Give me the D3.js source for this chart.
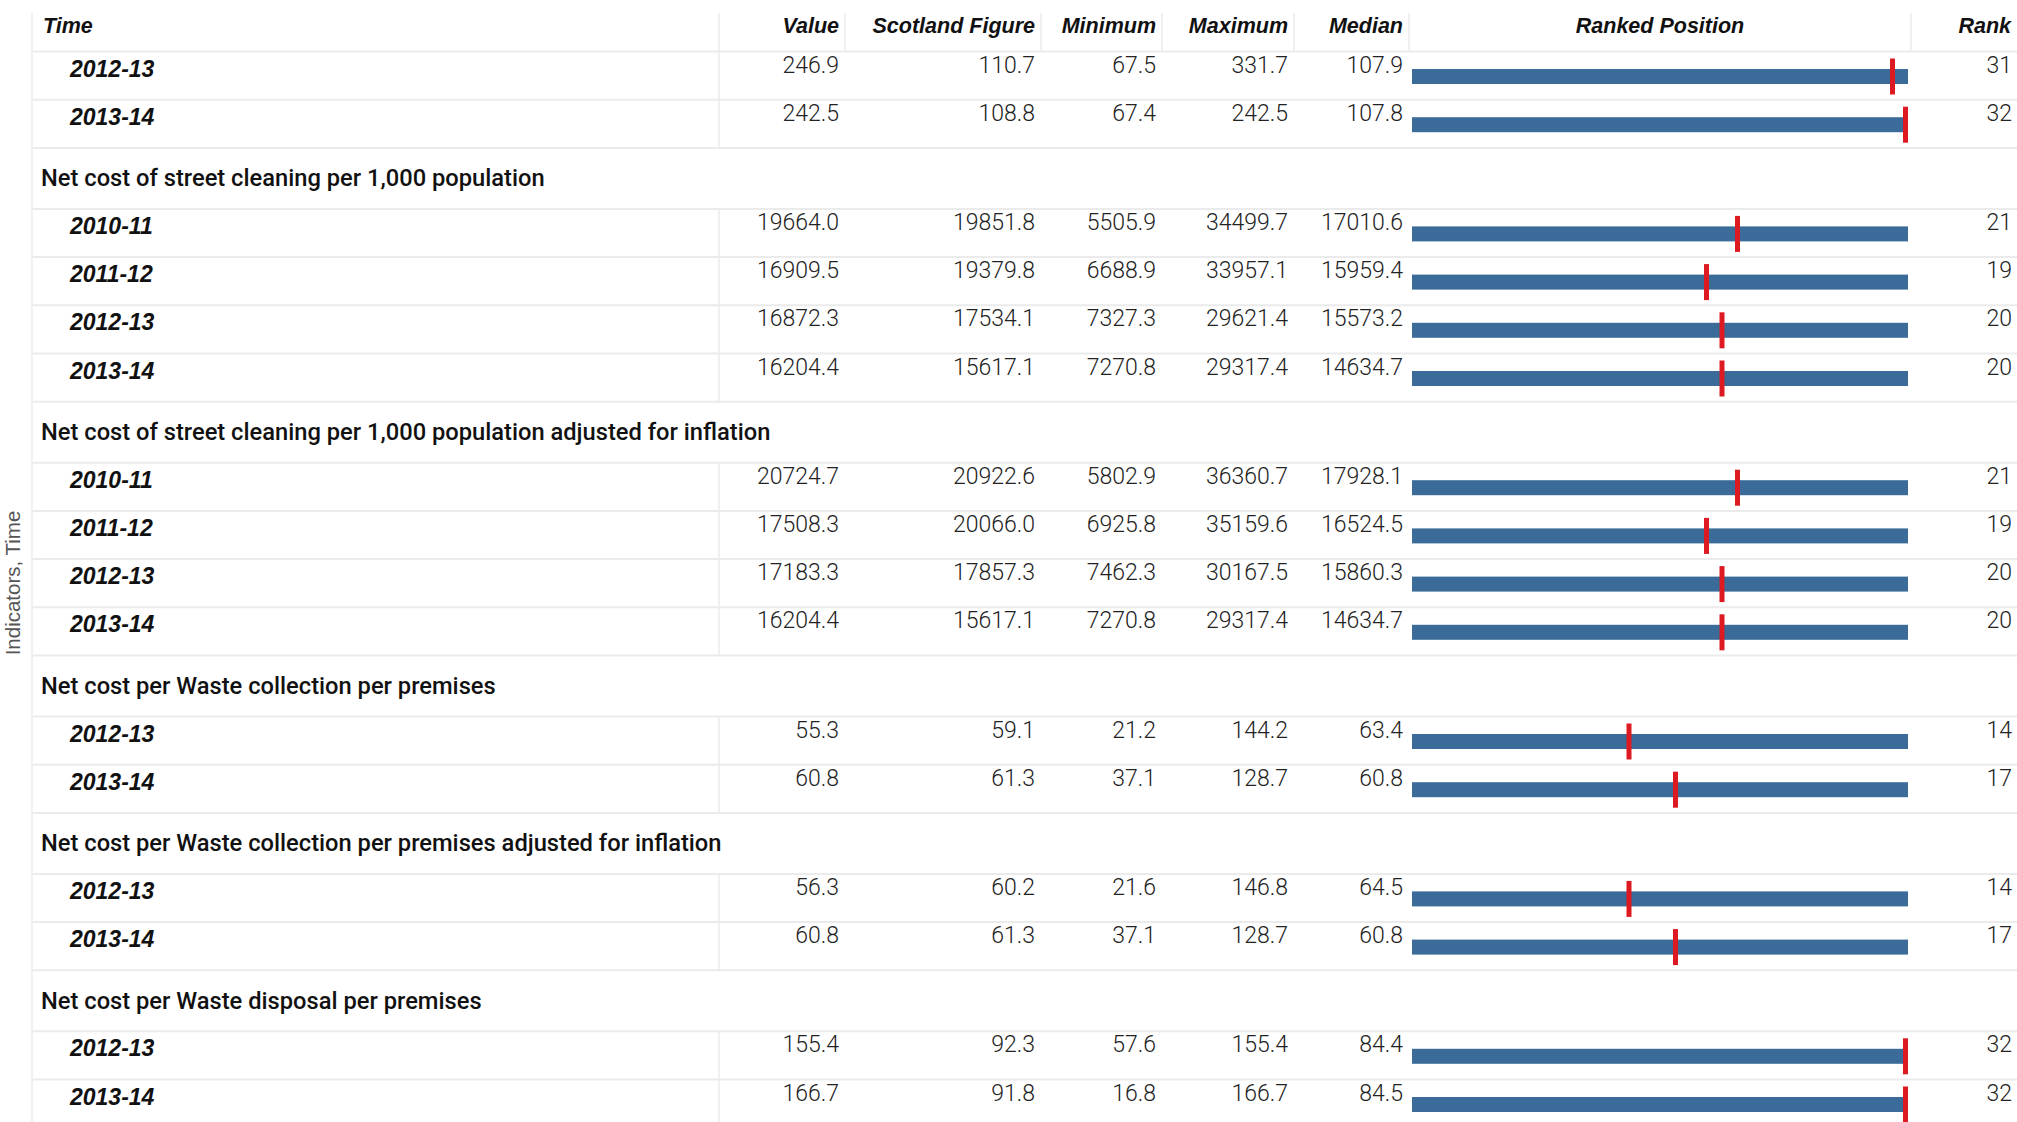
<!DOCTYPE html>
<html>
<head>
<meta charset="utf-8">
<script src="https://cdn.jsdelivr.net/npm/d3@7"></script>
<style>
  html, body { margin: 0; padding: 0; background: #fff; overflow: hidden; }
  text { font-family: "Liberation Sans", Arial, sans-serif; fill: #111; }
  .hdr { font-size: 21.5px; font-weight: bold; font-style: italic; }
  .period { font-size: 23px; font-weight: bold; font-style: italic; }
  .title { font-size: 23.7px; font-family: Roboto, "Liberation Sans", sans-serif; font-weight: 500; }
  .val { font-size: 23px; font-family: Roboto, "Liberation Sans", sans-serif; font-weight: 300; fill: #222; }
  .axis-title { font-size: 20.5px; fill: #555; }
</style>
</head>
<body>
<div id="chart"></div>
<script>
// indicator titles (the first one is scrolled out of view)
var indicators = [
  null,
  "Net cost of street cleaning per 1,000 population",
  "Net cost of street cleaning per 1,000 population adjusted for inflation",
  "Net cost per Waste collection per premises",
  "Net cost per Waste collection per premises adjusted for inflation",
  "Net cost per Waste disposal per premises"
];
// time periods shown under each indicator
var periods = [
  ["2012-13", "2013-14"],
  ["2010-11", "2011-12", "2012-13", "2013-14"],
  ["2010-11", "2011-12", "2012-13", "2013-14"],
  ["2012-13", "2013-14"],
  ["2012-13", "2013-14"],
  ["2012-13", "2013-14"]
];
// one entry per period row, in order
var value    = [246.9, 242.5, 19664.0, 16909.5, 16872.3, 16204.4, 20724.7, 17508.3, 17183.3, 16204.4, 55.3, 60.8, 56.3, 60.8, 155.4, 166.7];
var scotland = [110.7, 108.8, 19851.8, 19379.8, 17534.1, 15617.1, 20922.6, 20066.0, 17857.3, 15617.1, 59.1, 61.3, 60.2, 61.3, 92.3, 91.8];
var minimum  = [67.5, 67.4, 5505.9, 6688.9, 7327.3, 7270.8, 5802.9, 6925.8, 7462.3, 7270.8, 21.2, 37.1, 21.6, 37.1, 57.6, 16.8];
var maximum  = [331.7, 242.5, 34499.7, 33957.1, 29621.4, 29317.4, 36360.7, 35159.6, 30167.5, 29317.4, 144.2, 128.7, 146.8, 128.7, 155.4, 166.7];
var median   = [107.9, 107.8, 17010.6, 15959.4, 15573.2, 14634.7, 17928.1, 16524.5, 15860.3, 14634.7, 63.4, 60.8, 64.5, 60.8, 84.4, 84.5];
var rank     = [31, 32, 21, 19, 20, 20, 21, 19, 20, 20, 14, 17, 14, 17, 32, 32];
var councils = 32;

var columns = ["Time", "Value", "Scotland Figure", "Minimum", "Maximum", "Median", "Ranked Position", "Rank"];

var width = 2017, height = 1122;

// column edges
var colX = [32, 719, 845, 1041, 1162, 1294, 1409, 1911, 2017];
var headerH = 51.5, rowH = 48.2, titleH = 61;

var svg = d3.select("#chart").append("svg")
  .attr("width", width)
  .attr("height", height);

var fmt = d3.format(".1f");

// build the row list
var rows = [];
var y = headerH, k = 0;
indicators.forEach(function(ind, i) {
  if (ind !== null) {
    rows.push({type: "title", y: y, h: titleH, label: ind});
    y += titleH;
  }
  periods[i].forEach(function(p) {
    rows.push({type: "data", y: y, h: rowH, label: p,
      vals: [value[k], scotland[k], minimum[k], maximum[k], median[k]], rank: rank[k]});
    y += rowH;
    k++;
  });
});

var lineColor = "#ebebeb";

// left border
svg.append("line")
  .attr("x1", colX[0]).attr("x2", colX[0])
  .attr("y1", 13).attr("y2", height)
  .attr("stroke", lineColor).attr("stroke-width", 1.5);

// header separators
svg.selectAll(".hsep")
  .data(colX.slice(1, 8))
  .enter().append("line")
  .attr("x1", function(d){ return d; }).attr("x2", function(d){ return d; })
  .attr("y1", 13).attr("y2", headerH)
  .attr("stroke", lineColor).attr("stroke-width", 1.5);

// header labels
svg.selectAll(".hdr")
  .data(columns)
  .enter().append("text")
  .attr("class", "hdr")
  .attr("x", function(d, i){
    if (i === 0) return 43;
    if (i === 6) return (colX[6] + colX[7]) / 2;
    return colX[i + 1] - 6;
  })
  .attr("y", 33)
  .attr("text-anchor", function(d, i){ return i === 0 ? "start" : (i === 6 ? "middle" : "end"); })
  .text(function(d){ return d; });

// horizontal row lines
svg.selectAll(".hline")
  .data([headerH].concat(rows.map(function(r){ return r.y + r.h; })))
  .enter().append("line")
  .attr("x1", colX[0]).attr("x2", width)
  .attr("y1", function(d){ return d; }).attr("y2", function(d){ return d; })
  .attr("stroke", lineColor).attr("stroke-width", 2);

// indicator titles
svg.selectAll(".title")
  .data(rows.filter(function(r){ return r.type === "title"; }))
  .enter().append("text")
  .attr("class", "title")
  .attr("x", 41)
  .attr("y", function(r){ return r.y + 38.5; })
  .text(function(r){ return r.label; });

var dataRows = rows.filter(function(r){ return r.type === "data"; });

// vertical separator between time and value
svg.selectAll(".vsep")
  .data(dataRows)
  .enter().append("line")
  .attr("x1", colX[1]).attr("x2", colX[1])
  .attr("y1", function(r){ return r.y; }).attr("y2", function(r){ return r.y + r.h; })
  .attr("stroke", lineColor).attr("stroke-width", 1.5);

var g = svg.selectAll(".row")
  .data(dataRows)
  .enter().append("g")
  .attr("class", "row")
  .attr("transform", function(r){ return "translate(0," + r.y + ")"; });

g.append("text")
  .attr("class", "period")
  .attr("x", 70)
  .attr("y", 25)
  .text(function(r){ return r.label; });

g.selectAll(".val")
  .data(function(r){ return r.vals; })
  .enter().append("text")
  .attr("class", "val")
  .attr("x", function(d, i){ return colX[i + 2] - 6; })
  .attr("y", 21)
  .attr("text-anchor", "end")
  .text(function(d){ return fmt(d); });

g.append("text")
  .attr("class", "val")
  .attr("x", colX[8] - 5)
  .attr("y", 21)
  .attr("text-anchor", "end")
  .text(function(r){ return r.rank; });

// ranked position
var x = d3.scaleLinear().domain([0, councils]).range([1412, 1908]);
var tickW = 5;

g.append("rect")
  .attr("x", x(0))
  .attr("y", 25 - 7.5)
  .attr("width", x(councils) - x(0))
  .attr("height", 15)
  .attr("fill", "#3b6b99");

g.append("rect")
  .attr("x", function(r){ return Math.min(x(r.rank), x(councils) - tickW / 2) - tickW / 2; })
  .attr("y", 25 - 18)
  .attr("width", tickW)
  .attr("height", 36)
  .attr("fill", "#dd1a22");

// axis title
svg.append("text")
  .attr("class", "axis-title")
  .attr("transform", "translate(20," + 583 + ") rotate(-90)")
  .attr("text-anchor", "middle")
  .text("Indicators, Time");
</script>
</body>
</html>
